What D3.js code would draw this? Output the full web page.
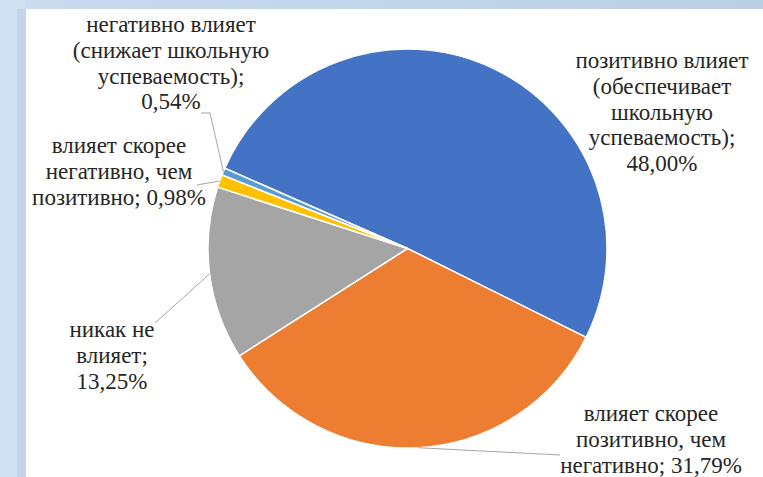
<!DOCTYPE html>
<html><head><meta charset="utf-8">
<script src="https://cdn.jsdelivr.net/npm/d3@7"></script>
<style>
html,body{margin:0;padding:0;background:#fff;}
svg{display:block;}
</style></head>
<body>
<svg id="chart" width="763" height="477"></svg>
<script>
// ---- data ----
const categories = [
  "позитивно влияет (обеспечивает школьную успеваемость)",
  "влияет скорее позитивно, чем негативно",
  "никак не влияет",
  "влияет скорее негативно, чем позитивно",
  "негативно влияет (снижает школьную успеваемость)"
];
const values = [48.00, 31.79, 13.25, 0.98, 0.54];
const valueLabels = ["48,00%", "31,79%", "13,25%", "0,98%", "0,54%"];
const labelLines = [
  ["позитивно влияет", "(обеспечивает", "школьную", "успеваемость);", "48,00%"],
  ["влияет скорее", "позитивно, чем", "негативно; 31,79%"],
  ["никак не", "влияет;", "13,25%"],
  ["влияет скорее", "негативно, чем", "позитивно; 0,98%"],
  ["негативно влияет", "(снижает школьную", "успеваемость);", "0,54%"]
];
const colors = ["#4472C4", "#ED7D31", "#A5A5A5", "#FFC000", "#5B9BD5"];

// ---- layout ----
const W = 763, H = 477;
const cx = 407.5, cy = 248.5, R = 199.5;
const startDeg = -66.3;
const lineH = 25.8;
const fontSize = 23;
const labelLayout = [
  {x: 662, y: 68, leader: null},
  {x: 651, y: 421, leader: [[560, 455]]},
  {x: 112, y: 337, leader: [[155, 323]]},
  {x: 119, y: 153, leader: [[197, 185]]},
  {x: 171, y: 32, leader: [[201, 113], [210, 113]]}
];

const svg = d3.select("#chart");

const defs = svg.append("defs");
const gTop = defs.append("linearGradient").attr("id", "gtop").attr("x1", 0).attr("x2", 1).attr("y1", 0).attr("y2", 0);
gTop.append("stop").attr("offset", "0%").attr("stop-color", "#cadcee");
gTop.append("stop").attr("offset", "100%").attr("stop-color", "#b8cfe6");
svg.append("rect").attr("x", 0).attr("y", 0).attr("width", W).attr("height", H).attr("fill", "#ffffff");
svg.append("rect").attr("x", 0).attr("y", 0).attr("width", W).attr("height", 9).attr("fill", "url(#gtop)");
svg.append("rect").attr("x", 0).attr("y", 0).attr("width", 26).attr("height", H).attr("fill", "#cfe0f0");
svg.append("rect").attr("x", 17).attr("y", 9).attr("width", 9).attr("height", H).attr("fill", "#c3d6e9");

const pie = d3.pie().sort(null).value(d => d)
  .startAngle(startDeg * Math.PI / 180)
  .endAngle((startDeg + 360) * Math.PI / 180);
const arcs = pie(values);
const arc = d3.arc().innerRadius(0).outerRadius(R);

const g = svg.append("g").attr("transform", `translate(${cx},${cy})`);
g.selectAll("path.slice").data(arcs).join("path")
  .attr("class", "slice")
  .attr("d", arc)
  .attr("fill", (d, i) => colors[i])
  .attr("stroke", "#ffffff")
  .attr("stroke-width", 1.5);

const outerPt = d => {
  const a = (d.startAngle + d.endAngle) / 2;
  return [cx + R * Math.sin(a), cy - R * Math.cos(a)];
};
arcs.forEach((d, i) => {
  const L = labelLayout[i];
  if (!L.leader) return;
  const pts = L.leader.concat([outerPt(d)]);
  svg.append("path")
    .attr("d", d3.line()(pts))
    .attr("fill", "none")
    .attr("stroke", "#a6a6a6")
    .attr("stroke-width", 1);
});

labelLines.forEach((lines, i) => {
  const L = labelLayout[i];
  lines.forEach((s, k) => {
    svg.append("text")
      .attr("x", L.x).attr("y", L.y + k * lineH)
      .attr("text-anchor", "middle")
      .style("font-family", '"Liberation Serif", "Times New Roman", serif')
      .style("font-size", fontSize + "px")
      .attr("fill", "#262626")
      .text(s);
  });
});
</script>
</body></html>
